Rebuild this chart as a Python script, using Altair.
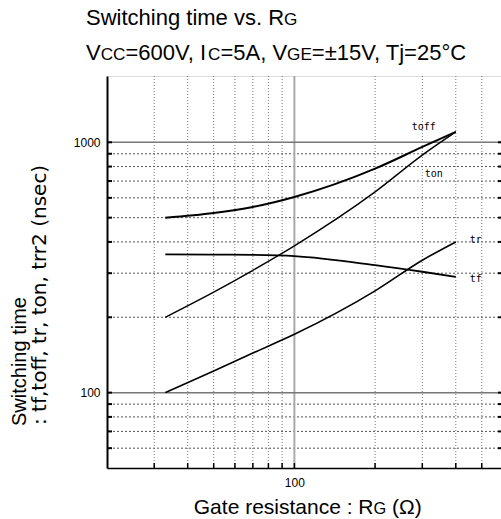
import altair as alt
import pandas as pd

# ---------------- data ----------------
RG = [33, 50, 70, 100, 200, 300, 400]
T_OFF = [500, 522, 552, 605, 785, 958, 1100]
T_ON = [200, 252, 308, 386, 634, 889, 1100]
T_R = [100, 122, 144, 171, 255, 338, 400]
T_F = [357, 356, 355, 351, 323, 304, 290]
SERIES = ["toff", "ton", "tr", "tf"]

X_GRID_DOT = [30, 40, 50, 60, 70, 80, 90, 200, 300, 400, 500]
X_GRID_SOLID = [100]
Y_GRID_DOT = [60, 70, 80, 90, 200, 300, 400, 500, 600, 700, 800, 900]
Y_GRID_SOLID = [100, 1000]
X_LABELS = [100]
Y_LABELS = [100, 1000]

TITLE_1 = [("Switching time vs. R", False), ("G", True)]
TITLE_2 = [("V", False), ("CC", True), ("=600V, I", False), ("C", True),
           ("=5A, V", False), ("GE", True), ("=±15V, Tj=25°C", False)]
X_TITLE = [("Gate resistance : R", False), ("G", True), (" (Ω)", False)]
Y_TITLE_1 = "Switching time"
Y_TITLE_2 = ": tf,toff, tr, ton, trr2 (nsec)"

# ---------------- layout / style ----------------
W, H = 396, 392
PAD_L, PAD_T = 107, 76
FONT = "Liberation Sans"
WIDE_FONT = "DejaVu Sans"
MONO = "DejaVu Sans Mono"

LABEL_STYLE = {  # offsets of the curve names from each curve's last point
    "toff": dict(dx=-44, dy=-5),
    "ton": dict(dx=-31, dy=42),
    "tr": dict(dx=14, dy=-2),
    "tf": dict(dx=14, dy=2),
}
LINE_WIDTH = {"toff": 2.0, "ton": 1.4, "tr": 1.6, "tf": 1.8}

xs = alt.Scale(type="log", domain=[20, 600], nice=False)
ys = alt.Scale(type="log", domain=[50, 1840], nice=False)

X_AX = alt.Axis(values=X_LABELS, format="d", grid=False, ticks=False, title=None,
                labelFont=FONT, labelFontSize=12, labelColor="black", labelPadding=9,
                domainColor="black", domainWidth=1.5, labelFlush=False, zindex=1)
Y_AX = alt.Axis(values=Y_LABELS, format="d", grid=False, ticks=False, title=None,
                labelFont=FONT, labelFontSize=12, labelColor="black", labelPadding=7,
                domainColor="black", domainWidth=2, zindex=1)

# ---------------- tables ----------------
rows = []
for name, vals in zip(SERIES, [T_OFF, T_ON, T_R, T_F]):
    for r, v in zip(RG, vals):
        rows.append({"Rg": r, "t": v, "series": name})
df = pd.DataFrame(rows)

xg_dot = pd.DataFrame({"Rg": X_GRID_DOT})
xg_solid = pd.DataFrame({"Rg": X_GRID_SOLID})
yg_dot = pd.DataFrame({"t": Y_GRID_DOT})
yg_solid = pd.DataFrame({"t": Y_GRID_SOLID})
x_all = pd.DataFrame({"Rg": X_GRID_DOT + X_GRID_SOLID})
y_all = pd.DataFrame({"t": Y_GRID_DOT + Y_GRID_SOLID})

layers = []

# grid lines
layers.append(alt.Chart(xg_dot).mark_rule(color="#777", strokeWidth=1, strokeDash=[1, 2])
              .encode(x=alt.X("Rg:Q", scale=xs, axis=X_AX)))
layers.append(alt.Chart(yg_dot).mark_rule(color="#555", strokeWidth=1, strokeDash=[2, 2])
              .encode(y=alt.Y("t:Q", scale=ys, axis=Y_AX)))
layers.append(alt.Chart(xg_solid).mark_rule(color="#aaa", strokeWidth=2)
              .encode(x=alt.X("Rg:Q", scale=xs, axis=X_AX)))
layers.append(alt.Chart(yg_solid).mark_rule(color="#777", strokeWidth=1.5)
              .encode(y=alt.Y("t:Q", scale=ys, axis=Y_AX)))

# inward tick marks
layers.append(alt.Chart(y_all).mark_rule(color="black", strokeWidth=2)
              .encode(y=alt.Y("t:Q", scale=ys, axis=Y_AX), x=alt.value(0), x2=alt.value(5)))
layers.append(alt.Chart(y_all).mark_rule(color="black", strokeWidth=2)
              .encode(y=alt.Y("t:Q", scale=ys, axis=Y_AX), x=alt.value(W), x2=alt.value(W - 5)))
layers.append(alt.Chart(x_all).mark_rule(color="black", strokeWidth=1.5)
              .encode(x=alt.X("Rg:Q", scale=xs, axis=X_AX), y=alt.value(H), y2=alt.value(H - 5)))

# curves and their names
for name in SERIES:
    sub = df[df.series == name]
    layers.append(alt.Chart(sub).mark_line(color="black", strokeWidth=LINE_WIDTH[name],
                                            interpolate="monotone")
                  .encode(x=alt.X("Rg:Q", scale=xs, axis=X_AX),
                          y=alt.Y("t:Q", scale=ys, axis=Y_AX), order="Rg:Q"))
    last = sub[sub.Rg == max(RG)]
    st = LABEL_STYLE[name]
    layers.append(alt.Chart(last).mark_text(font=MONO, fontSize=10, color="black",
                                             align="left", baseline="middle",
                                             dx=st["dx"], dy=st["dy"])
                  .encode(x=alt.X("Rg:Q", scale=xs, axis=X_AX),
                          y=alt.Y("t:Q", scale=ys, axis=Y_AX), text="series:N"))

# ---------------- text (titles) ----------------
AW = {" ": 278, ",": 278, ".": 278, "=": 584, "±": 584, "°": 400, ":": 278,
      "(": 333, ")": 333, "Ω": 768, "A": 667, "C": 722, "E": 667, "G": 778,
      "I": 278, "R": 722, "S": 667, "T": 611, "V": 667, "a": 556, "c": 500,
      "e": 556, "g": 556, "h": 556, "i": 222, "j": 222, "m": 833, "n": 556,
      "r": 333, "s": 500, "t": 278, "v": 500, "w": 722}


def text_w(s, size):
    return sum(AW.get(c, 556) for c in s) * size / 1000.0


def text_layer(txt, x, y, size, align="left", angle=0, baseline="alphabetic", font=FONT):
    kw = dict(text=txt, font=font, fontSize=size, align=align, baseline=baseline,
              color="black")
    if angle:
        kw["angle"] = angle
    return alt.Chart(pd.DataFrame({"k": [0]})).mark_text(**kw).encode(
        x=alt.value(x), y=alt.value(y))


def rich(segs, x0, y, size, small=0.78, center=False):
    sizes = [size * small if sm else size for _, sm in segs]
    total = sum(text_w(t, s) for (t, _), s in zip(segs, sizes))
    x = x0 - total / 2 if center else x0
    out = []
    for (t, _), s in zip(segs, sizes):
        lead = len(t) - len(t.lstrip())
        out.append(text_layer(t.strip(), x + text_w(t[:lead], s), y, s))
        x += text_w(t, s)
    return out


layers += rich(TITLE_1, 86 - PAD_L, 25 - PAD_T, 22)
layers += rich(TITLE_2, 86 - PAD_L, 60 - PAD_T, 22)
layers += rich(X_TITLE, 308 - PAD_L, 514 - PAD_T, 21, center=True)
layers.append(text_layer(Y_TITLE_1, 20 - PAD_L, 426 - PAD_T, 20, angle=270, baseline="middle"))
layers.append(text_layer(Y_TITLE_2, 40 - PAD_L, 425 - PAD_T, 20, angle=270, baseline="middle",
                         font=WIDE_FONT))

chart = (
    alt.layer(*layers)
    .properties(width=W, height=H,
                padding={"left": PAD_L, "top": PAD_T, "right": 501 - PAD_L - W,
                         "bottom": 519 - PAD_T - H},
                autosize=alt.AutoSizeParams(type="none"))
    .configure_view(stroke="#222", strokeWidth=1)
    .configure(background="white")
)

chart.save("out.html", embed_options={"renderer": "svg", "actions": False})
